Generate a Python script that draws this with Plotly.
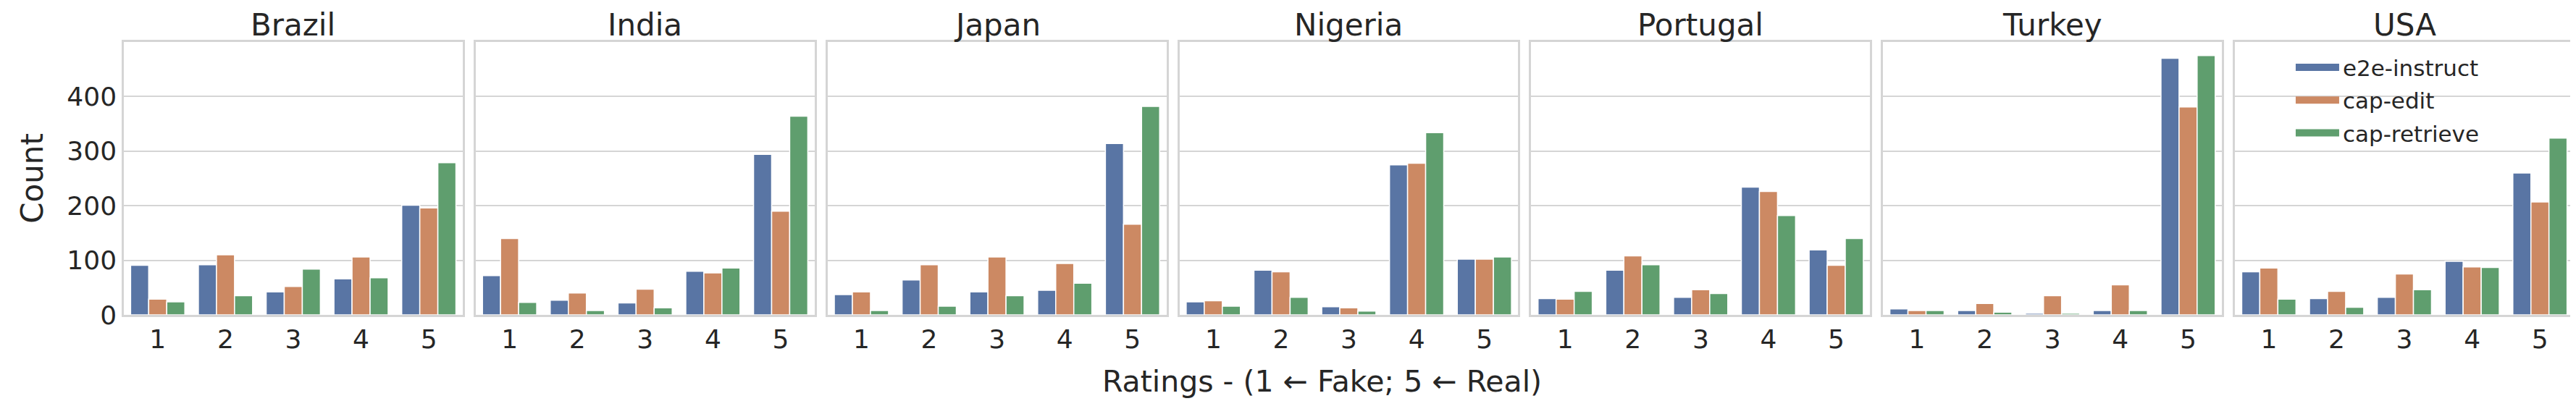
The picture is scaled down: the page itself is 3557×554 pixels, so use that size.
import plotly.graph_objects as go
from plotly.subplots import make_subplots

COUNTRIES = ["Brazil", "India", "Japan", "Nigeria", "Portugal", "Turkey", "USA"]
RATINGS = ["1", "2", "3", "4", "5"]
METHODS = ["e2e-instruct", "cap-edit", "cap-retrieve"]

# counts per country, ratings 1..5
E2E_INSTRUCT = [
    [91, 92, 42, 66, 201],
    [72, 27, 22, 80, 294],
    [37, 64, 42, 45, 314],
    [24, 82, 15, 275, 102],
    [30, 82, 32, 234, 119],
    [11, 8, 3, 8, 470],
    [79, 30, 32, 98, 260],
]
CAP_EDIT = [
    [29, 110, 52, 106, 196],
    [140, 40, 47, 77, 190],
    [42, 92, 106, 94, 166],
    [26, 79, 13, 278, 102],
    [29, 108, 46, 226, 91],
    [8, 21, 35, 55, 381],
    [86, 43, 75, 88, 207],
]
CAP_RETRIEVE = [
    [24, 35, 84, 68, 279],
    [23, 8, 13, 86, 364],
    [8, 16, 35, 58, 382],
    [16, 32, 7, 334, 106],
    [43, 92, 39, 182, 140],
    [8, 5, 3, 8, 475],
    [29, 14, 46, 87, 324],
]

COLORS = ["#5975a4", "#cc8963", "#5f9e6e"]
FONT = "DejaVu Sans"
TEXT = "#262626"
GRID = "#d5d5d5"

fig = make_subplots(rows=1, cols=7, shared_yaxes=True,
                    subplot_titles=COUNTRIES, horizontal_spacing=0.0053)

series = [E2E_INSTRUCT, CAP_EDIT, CAP_RETRIEVE]
for c in range(len(COUNTRIES)):
    for m, name in enumerate(METHODS):
        fig.add_trace(go.Bar(
            x=RATINGS, y=series[m][c], name=name,
            marker=dict(color=COLORS[m], line=dict(color="white", width=1.5)),
            legendgroup=name, showlegend=False,
        ), row=1, col=c + 1)

# legend-only entries so the key shows wide patches like the original
for m, name in enumerate(METHODS):
    fig.add_trace(go.Scatter(
        x=[None], y=[None], mode="lines", name=name, legendgroup=name,
        line=dict(color=COLORS[m], width=20),
    ), row=1, col=7)

fig.update_layout(
    width=3557, height=554,
    template="plotly_white",
    paper_bgcolor="white", plot_bgcolor="white",
    margin=dict(l=163, r=9, t=50, b=127),
    barmode="group", bargap=0.2, bargroupgap=0,
    font=dict(family=FONT, color=TEXT, size=36),
    showlegend=True,
    legend=dict(x=0.885, y=0.978, xanchor="left", yanchor="top",
                bgcolor="rgba(0,0,0,0)", font=dict(size=31, color=TEXT),
                itemwidth=60, tracegroupgap=2),
)

fig.update_xaxes(showgrid=False, showline=True, mirror=True, linecolor=GRID,
                 linewidth=2.5, ticks="", tickfont=dict(size=36, color=TEXT),
                 range=[-0.5, 4.5], zeroline=False)
fig.update_yaxes(range=[0, 500], tickvals=[0, 100, 200, 300, 400],
                 showgrid=True, gridcolor=GRID, gridwidth=2,
                 showline=True, mirror=True, linecolor=GRID, linewidth=2.5,
                 zeroline=False, ticks="", tickfont=dict(size=36, color=TEXT))
fig.update_yaxes(title=dict(text="Count", font=dict(size=42, color=TEXT), standoff=20),
                 row=1, col=1)

for ann in fig.layout.annotations:
    ann.font = dict(family=FONT, size=42, color=TEXT)
    ann.yshift = -3

fig.add_annotation(
    text="Ratings - (1 \u2190 Fake; 5 \u2190 Real)",
    xref="paper", yref="paper", x=0.489, y=-0.245,
    xanchor="center", yanchor="middle", showarrow=False,
    font=dict(family=FONT, size=41, color=TEXT),
)

fig.write_html("out.html")
